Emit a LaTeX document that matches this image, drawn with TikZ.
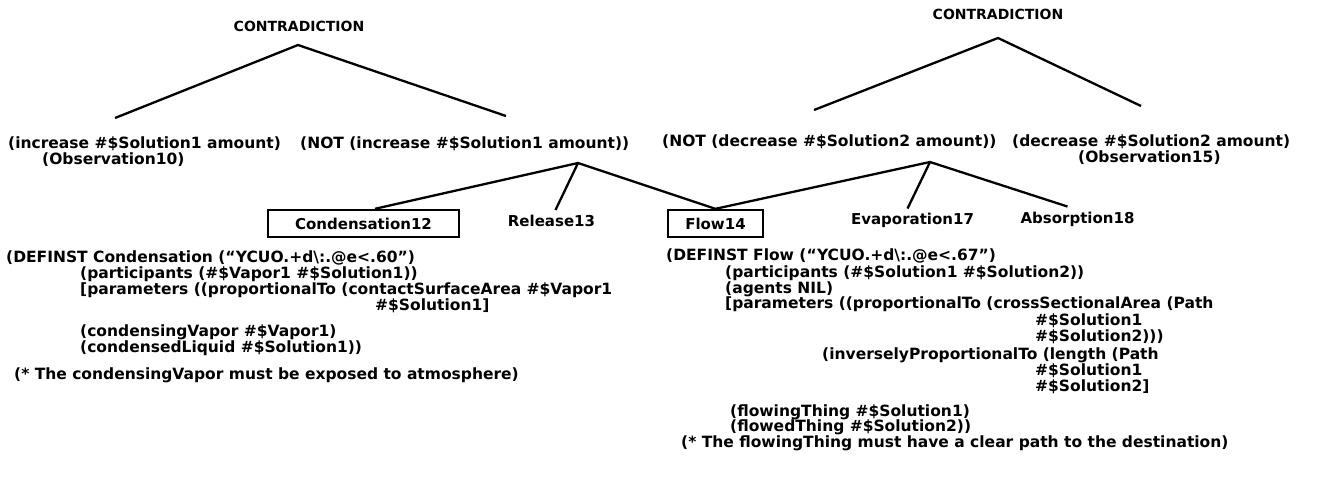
\documentclass[tikz,border=0pt]{standalone}
\usepackage{fontspec}
\setmainfont{DejaVu Sans}
\usetikzlibrary{calc}
\tikzset{
  code/.style={font=\fontsize{15.5}{16.5}\selectfont\bfseries, inner sep=0pt, anchor=base west},
  head/.style={font=\fontsize{14}{15}\selectfont\bfseries, inner sep=0pt},
  ev/.style={font=\fontsize{15}{16.5}\selectfont\bfseries, inner sep=0pt},
  evbox/.style={ev, draw, line width=2.4pt, minimum height=27pt},
  link/.style={line width=2.3pt}
}
\def\sol#1{\#\$Solution#1}
\def\vap#1{\#\$Vapor#1}

\begin{document}
\begin{tikzpicture}[x=1pt,y=-1pt]
		%%%%% START %%%%%
		\useasboundingbox (0,0) rectangle (1319,496);

		% the two contradictions
		\node[head] (contraL) at (299,26) {CONTRADICTION};
		\node[head] (contraR) at (998,14) {CONTRADICTION};
		\coordinate (apexL) at (298,45);
		\coordinate (apexR) at (998,38);
		\coordinate (tipIncr) at (115,118);
		\coordinate (tipNotIncr) at (506,116);
		\coordinate (tipNotDecr) at (814,110);
		\coordinate (tipDecr) at (1141,106);
		\draw[link] (tipIncr) -- (apexL) -- (tipNotIncr);
		\draw[link] (tipNotDecr) -- (apexR) -- (tipDecr);

		\node[code] (incr) at (8,148) {(increase \sol1 amount)};
		\node[code] (obs10) at (42,164) {(Observation10)};
		\node[code] (notIncr) at (300,148) {(NOT (increase \sol1 amount))};
		\node[code] (notDecr) at (662,146) {(NOT (decrease \sol2 amount))};
		\node[code] (decr) at (1012,146) {(decrease \sol2 amount)};
		\node[code] (obs15) at (1078,162) {(Observation15)};

		% processes
		\coordinate (apexM) at (578,163);
		\coordinate (apexN) at (930,162);
		\node[evbox, minimum width=191pt] (cond) at (363.5,223.5) {Condensation12};
		\node[ev] (rel) at (551.5,221) {Release13};
		\node[evbox, minimum width=95pt] (flow) at (715.5,223.5) {Flow14};
		\node[ev] (evap) at (912.5,220) {Evaporation17};
		\node[ev] (abs) at (1077.5,219) {Absorption18};
		\draw[link] ([xshift=11.5pt]cond.north) -- (apexM) -- (flow.north) -- (apexN) -- ([xshift=-10pt,yshift=5pt]abs.north);
		\draw[link] (apexM) -- ([xshift=4pt,yshift=5pt]rel.north);
		\draw[link] (apexN) -- ([xshift=-5pt,yshift=4pt]evap.north);

		% condensation definition
		\node[code] (c1) at (6,262) {(DEFINST Condensation (``YCUO.+d\textbackslash:.@e<.60'')};
		\node[code] (c2) at (80,278) {(participants (\vap1 \sol1))};
		\node[code] (c3) at (80,294) {[parameters ((proportionalTo (contactSurfaceArea \vap1};
		\node[code] (c4) at (375,310) {\sol1]};
		\node[code] (c5) at (80,336) {(condensingVapor \vap1)};
		\node[code] (c6) at (80,352) {(condensedLiquid \sol1))};
		\node[code] (c7) at (14,379) {(* The condensingVapor must be exposed to atmosphere)};

		% flow definition
		\node[code] (f1) at (666,260) {(DEFINST Flow (``YCUO.+d\textbackslash:.@e<.67'')};
		\node[code] (f2) at (725,277) {(participants (\sol1 \sol2))};
		\node[code] (f3) at (725,293) {(agents NIL)};
		\node[code] (f4) at (725,308) {[parameters ((proportionalTo (crossSectionalArea (Path};
		\node[code] (f5) at (1035,325) {\sol1};
		\node[code] (f6) at (1035,341) {\sol2)))};
		\node[code] (f7) at (822,359) {(inverselyProportionalTo (length (Path};
		\node[code] (f8) at (1035,375) {\sol1};
		\node[code] (f9) at (1035,391) {\sol2]};
		\node[code] (f10) at (730,416) {(flowingThing \sol1)};
		\node[code] (f11) at (730,431) {(flowedThing \sol2))};
		\node[code] (f12) at (681,447) {(* The flowingThing must have a clear path to the destination)};

		%%%%% END %%%%%
\end{tikzpicture}
\end{document}
